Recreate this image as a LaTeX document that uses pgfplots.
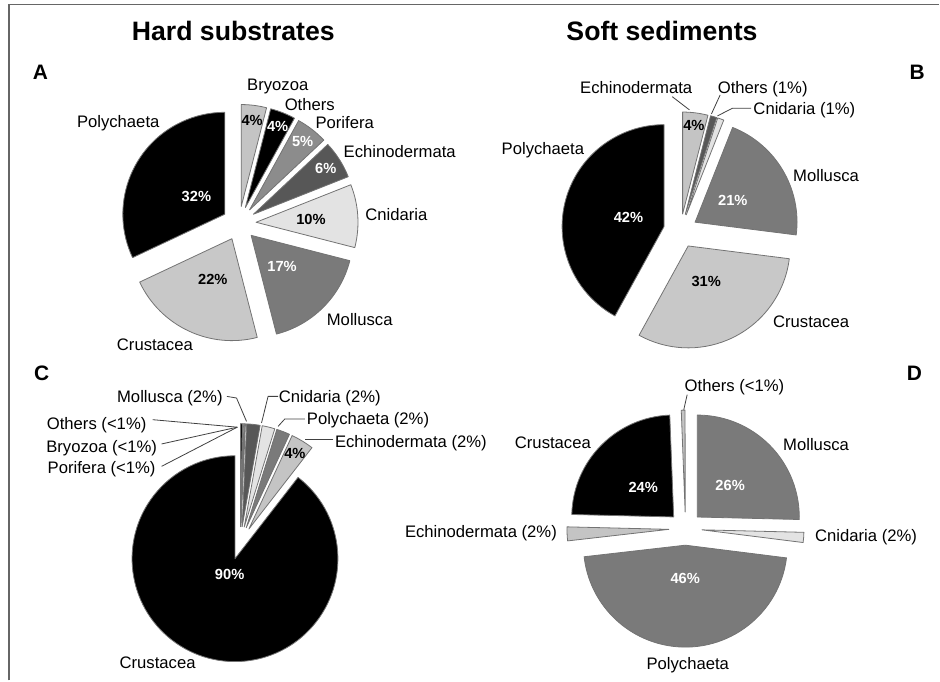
\documentclass[border=0pt]{standalone}
\usepackage{fontspec}
\setmainfont{Liberation Sans}
\usepackage{pgfplots}
\pgfplotsset{compat=1.18}

\definecolor{gPale}{HTML}{E3E3E3}
\definecolor{gLight}{HTML}{C4C4C4}
\definecolor{gCru}{HTML}{C8C8C8}
\definecolor{gMid}{HTML}{8C8C8C}
\definecolor{gMol}{HTML}{7A7A7A}
\definecolor{gDark}{HTML}{575757}

\newcommand\labfont{\fontsize{12.5}{15}\selectfont}
\newcommand\pctfont{\fontsize{11}{13}\selectfont\bfseries}
\newcommand\titfont{\fontsize{20}{24}\selectfont\bfseries}
\newcommand\letfont{\fontsize{15.7}{18}\selectfont\bfseries}

\tikzset{
  lab/.style={font=\labfont, anchor=base, inner sep=0pt, yshift=-4.5pt},
  pct/.style={font=\pctfont, anchor=base, inner sep=0pt, yshift=-4pt},
  tit/.style={font=\titfont, anchor=base, inner sep=0pt, yshift=-7.1pt},
  let/.style={font=\letfont, anchor=base, inner sep=0pt, yshift=-5.6pt},
  lead/.style={draw=black!75, line width=0.6pt},
}

% pie in pixel units: #1 cx, #2 cy, #3 first angle, #4 explode, #5 radius,
% #6 slices value/fill/textcolour/label position/label, clockwise
\newcommand\piechart[6]{%
  \xdef\curang{#3}%
  \pgfmathsetmacro\dpt{0.75*#4}%
  \pgfmathsetmacro\rpt{0.75*#5}%
  \foreach \v/\fc/\tc/\lf/\lt in {#6}{%
    \pgfmathsetmacro\angA{\curang}%
    \pgfmathsetmacro\angB{\curang-3.6*\v}%
    \pgfmathsetmacro\angM{(\angA+\angB)/2}%
    \pgfmathsetmacro\lpt{0.75*(#4+\lf*#5)}%
    \edef\temp{%
      \noexpand\filldraw[fill=\fc,draw=black!55,line width=0.6pt,line join=round]
        (axis cs:#1,#2) ++(\angM:\dpt pt) -- ++(\angA:\rpt pt)
        arc[start angle=\angA,end angle=\angB,radius=\rpt pt] -- cycle;
      \noexpand\path (axis cs:#1,#2) ++(\angM:\lpt pt)
        node[pct,text=\tc] {\unexpanded\expandafter{\lt}};%
    }%
    \temp
    \xdef\curang{\angB}%
  }%
}

\begin{document}
\begin{tikzpicture}
\begin{axis}[
  x=0.75pt, y=0.75pt,
  xmin=0, xmax=940, ymin=0, ymax=681,
  y dir=reverse,
  hide axis, clip=false,
]
\path (axis cs:0,0) rectangle (axis cs:940,681);
\draw[black!60, line width=1.1pt] (axis cs:9,681) -- (axis cs:9,4.5) -- (axis cs:940,4.5);

\node[tit] at (axis cs:233.5,31.5) {Hard substrates};
\node[tit] at (axis cs:662.5,31.5) {Soft sediments};
\node[let] at (axis cs:40.5,72.5) {A};
\node[let] at (axis cs:918,72) {B};
\node[let] at (axis cs:41.7,373.3) {C};
\node[let] at (axis cs:915,373.3) {D};

% A: hard substrates
\piechart{239.3}{223.5}{90}{17}{102}{%
  4/gLight/black/0.85/4\%,
  4/black/white/0.86/4\%,
  5/gMid/white/0.85/5\%,
  6/gDark/white/0.84/6\%,
  10/gPale/black/0.54/10\%,
  17/gMol/white/0.43/17\%,
  22/gCru/black/0.44/22\%,
  32/black/white/0.33/32\%}
\node[lab] at (axis cs:118.3,121.7) {Polychaeta};
\node[lab] at (axis cs:278,85) {Bryozoa};
\node[lab] at (axis cs:310,105) {Others};
\node[lab] at (axis cs:345,123) {Porifera};
\node[lab] at (axis cs:400,151.7) {Echinodermata};
\node[lab] at (axis cs:396.7,215) {Cnidaria};
\node[lab] at (axis cs:360,320) {Mollusca};
\node[lab] at (axis cs:155,345) {Crustacea};

% B: soft sediments
\piechart{681}{231}{90}{17}{102}{%
  4/gLight/black/0.88/4\%,
  1/gDark/white/0/{},
  1/gPale/black/0/{},
  21/gMol/white/0.43/21\%,
  31/gCru/black/0.39/31\%,
  42/black/white/0.36/42\%}
\node[lab] at (axis cs:636.7,87.3) {Echinodermata};
\node[lab] at (axis cs:763.3,87.3) {Others (1\%)};
\node[lab] at (axis cs:805,109) {Cnidaria (1\%)};
\node[lab] at (axis cs:543.3,148.3) {Polychaeta};
\node[lab] at (axis cs:826.7,176) {Mollusca};
\node[lab] at (axis cs:811.7,321.7) {Crustacea};
\draw[lead] (axis cs:672.7,96.7) -- (axis cs:690,110);
\draw[lead] (axis cs:720.7,95) -- (axis cs:712,114);
\draw[lead] (axis cs:751.7,108.3) -- (axis cs:733,108.3) -- (axis cs:718,116);

% C: hard substrates
\piechart{240.5}{543.5}{90}{16.5}{103}{%
  0.3/black/white/0/{},
  0.2/gLight/black/0/{},
  0.2/gMid/white/0/{},
  2.1/gDark/white/0/{},
  2.0/gPale/black/0/{},
  2.1/gMol/white/0/{},
  3.6/gLight/black/0.86/4\%,
  89.5/black/white/0.16/90\%}
\node[lab] at (axis cs:170,396.7) {Mollusca (2\%)};
\node[lab] at (axis cs:330,396.7) {Cnidaria (2\%)};
\node[lab] at (axis cs:368.3,419.3) {Polychaeta (2\%)};
\node[lab, anchor=base west] at (axis cs:335,441.7) {Echinodermata (2\%)};
\node[lab] at (axis cs:96.7,424.3) {Others (<1\%)};
\node[lab] at (axis cs:101.7,446.7) {Bryozoa (<1\%)};
\node[lab] at (axis cs:101.7,468.3) {Porifera (<1\%)};
\node[lab] at (axis cs:157.7,663.3) {Crustacea};
\draw[lead] (axis cs:227,396.7) -- (axis cs:236.7,398.3) -- (axis cs:246.7,421.7);
\draw[lead] (axis cs:278.3,396.7) -- (axis cs:268.3,396.7) -- (axis cs:261.7,423.3);
\draw[lead] (axis cs:305,419.3) -- (axis cs:285,419.3) -- (axis cs:278.3,426.7);
\draw[lead] (axis cs:333.3,440) -- (axis cs:305,440);
\draw[lead] (axis cs:152.7,420) -- (axis cs:237.5,427.5);
\draw[lead] (axis cs:161.7,444.3) -- (axis cs:237.5,427.5);
\draw[lead] (axis cs:161.7,466.7) -- (axis cs:237.5,427.5);

% D: soft sediments
\piechart{686}{529}{92.2}{16.6}{102}{%
  0.6/gLight/black/0/{},
  25.4/gMol/white/0.45/26\%,
  1.6/gPale/black/0/{},
  46.2/gMol/white/0.32/46\%,
  2.2/gLight/black/0/{},
  24.0/black/white/0.42/24\%}
\node[lab] at (axis cs:735,386) {Others (<1\%)};
\node[lab] at (axis cs:553.3,443.3) {Crustacea};
\node[lab] at (axis cs:816.7,445) {Mollusca};
\node[lab] at (axis cs:481.3,531.7) {Echinodermata (2\%)};
\node[lab] at (axis cs:866.7,536) {Cnidaria (2\%)};
\node[lab] at (axis cs:688.3,664.3) {Polychaeta};
\draw[lead] (axis cs:687.7,395) -- (axis cs:684.3,410);
\end{axis}
\end{tikzpicture}
\end{document}
